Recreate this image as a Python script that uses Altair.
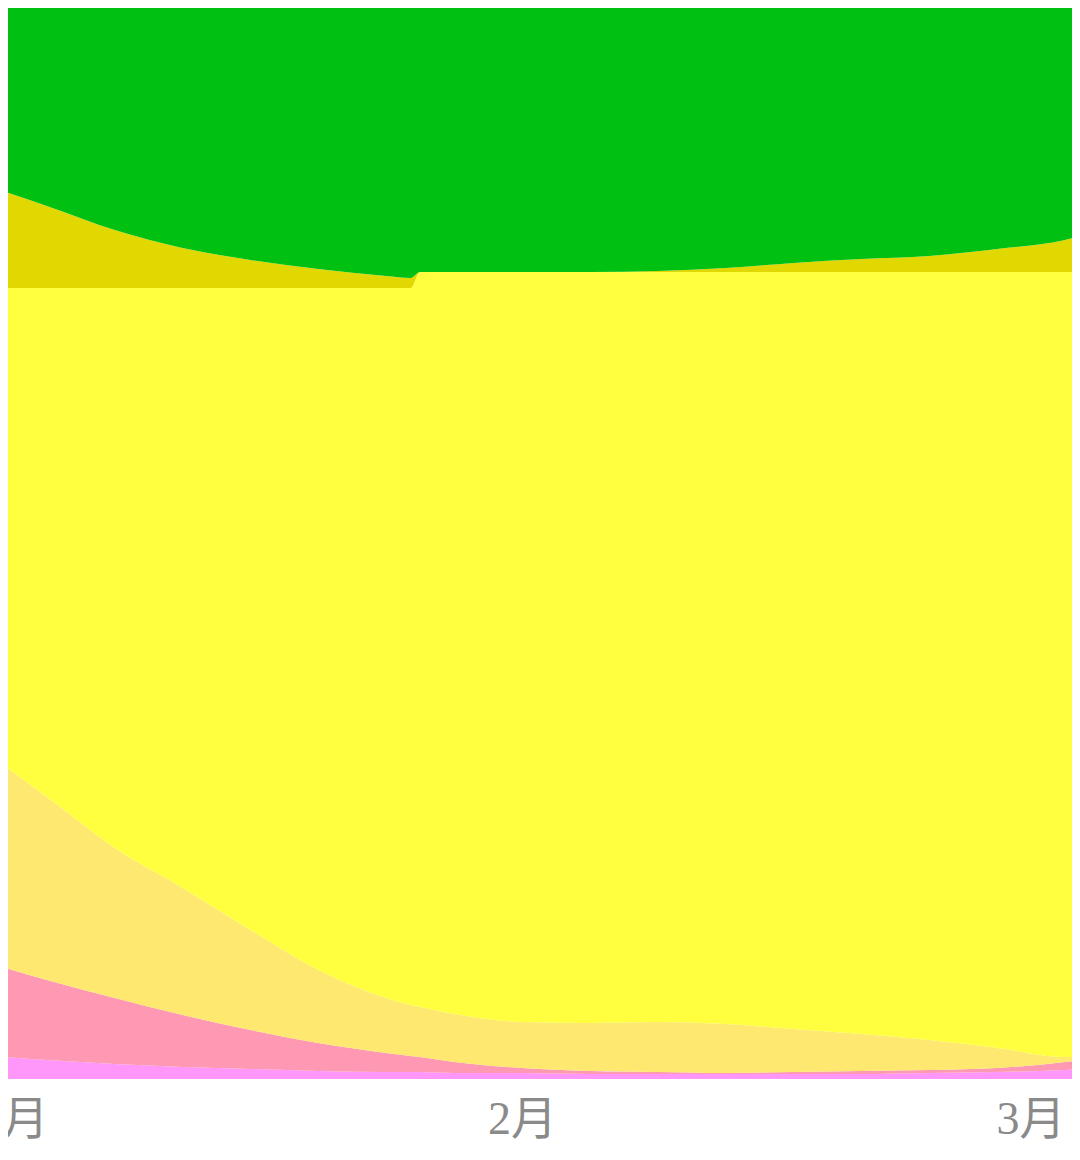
import altair as alt
import pandas as pd

# x positions in month units (1 = 1月, 2 = 2月, 3 = 3月)
months = [1.000, 1.125, 1.250, 1.375, 1.500, 1.625, 1.750, 1.795, 1.812, 1.875,
          2.000, 2.125, 2.250, 2.375, 2.500, 2.625, 2.750, 2.875, 3.000, 3.015]

tick_values = [1, 2, 3]
tick_labels = ["1月", "2月", "3月"]

series_names = ["系列1", "系列2", "系列3", "系列4", "系列5", "系列6"]
series_colors = ["#ff96fa", "#ff98b2", "#ffe870", "#ffff40", "#e0d800", "#00c012"]

# bottom -> top
s1 = [24, 19, 15, 12, 10, 8, 7, 7, 7, 6, 6, 5, 5, 5, 5, 5, 6, 7, 9, 10]
s2 = [95, 80, 66, 52, 39, 28, 19, 16, 15, 11, 5, 3, 2, 1, 2, 3, 3, 4, 8, 8]
s3 = [212, 183, 150, 127, 100, 73, 55, 51, 50, 48, 46, 48, 50, 49, 43, 37, 30, 20, 5, 4]
s4 = [460, 509, 560, 600, 642, 682, 710, 717, 735, 742, 750, 751, 750, 752, 757, 762, 768, 776, 785, 785]
s5 = [105, 82, 58, 40, 28, 19, 12, 10, 0, 0, 0, 0, 1, 4, 9, 13, 16, 23, 32, 34]
s6 = [204, 227, 251, 269, 281, 290, 297, 299, 293, 293, 293, 293, 292, 289, 284, 280, 277, 270, 261, 259]

all_series = [s1, s2, s3, s4, s5, s6]

rows = []
for k, (name, vals) in enumerate(zip(series_names, all_series)):
    for m, v in zip(months, vals):
        rows.append({"m": m, "v": v, "series": name, "order": k})
df = pd.DataFrame(rows)

label_expr = "[" + ",".join("'" + t + "'" for t in tick_labels) + "][datum.value - 1]"

chart = alt.Chart(df).mark_area(interpolate="monotone", clip=False).encode(
    x=alt.X(
        "m:Q",
        scale=alt.Scale(domain=[1, 3], nice=False, zero=False),
        axis=alt.Axis(
            values=tick_values,
            labelExpr=label_expr,
            title=None,
            domain=False,
            ticks=False,
            grid=False,
            labelFontSize=46,
            labelColor="#8a8a8a",
            labelFont="Liberation Serif, Noto Sans CJK SC",
            labelPadding=18,
            labelFlush=True,
        ),
    ),
    y=alt.Y("v:Q", stack="zero", scale=alt.Scale(domain=[0, 1087], nice=False), axis=None),
    color=alt.Color(
        "series:N",
        scale=alt.Scale(domain=series_names, range=series_colors),
        legend=None,
    ),
    order=alt.Order("order:Q"),
).properties(
    width=1086,
    height=1087,
    autosize=alt.AutoSizeParams(type="none"),
    padding={"left": -29, "top": -16, "right": 7, "bottom": 66},
).configure_view(stroke=None)

chart.save("out.html", embed_options={"renderer": "svg", "actions": False})
